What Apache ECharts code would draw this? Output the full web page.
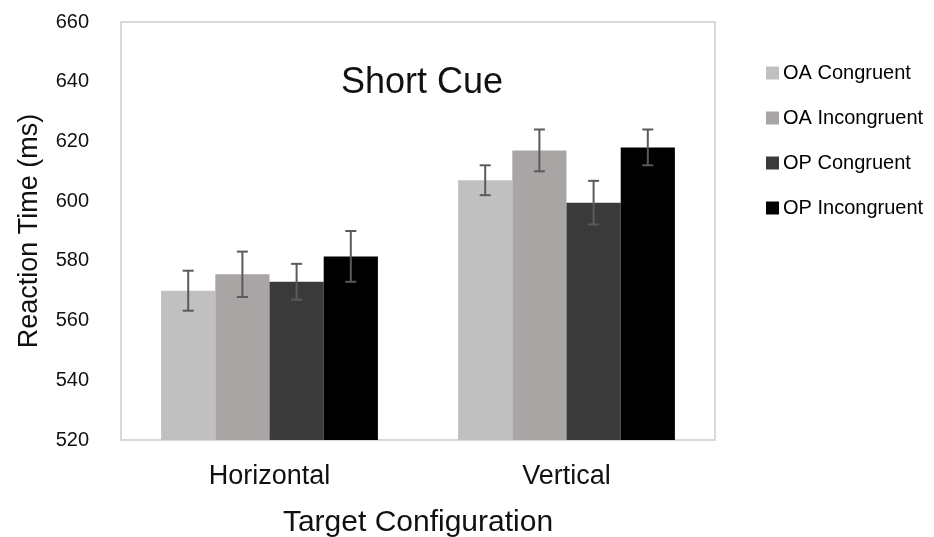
<!DOCTYPE html>
<html>
<head>
<meta charset="utf-8">
<script src="https://cdn.jsdelivr.net/npm/echarts@6/dist/echarts.min.js"></script>
<style>html,body{margin:0;padding:0;background:#fff}#c{width:934px;height:537px}</style>
</head>
<body>
<div id="c"></div>
<script>
var categories = ['Horizontal', 'Vertical'];
var seriesNames = ['OA Congruent', 'OA Incongruent', 'OP Congruent', 'OP Incongruent'];
var oaCongruent = [570, 607];
var oaIncongruent = [575.5, 617];
var opCongruent = [573, 599.5];
var opIncongruent = [581.5, 618];
var oaCongruentErr = [6.7, 5];
var oaIncongruentErr = [7.6, 7];
var opCongruentErr = [6, 7.3];
var opIncongruentErr = [8.5, 6];
var yTicks = [520, 540, 560, 580, 600, 620, 640, 660];

var values = [oaCongruent, oaIncongruent, opCongruent, opIncongruent];
var errors = [oaCongruentErr, oaIncongruentErr, opCongruentErr, opIncongruentErr];
var colors = ['#c0c0c0', '#a9a5a5', '#3a3a3a', '#000000'];
var gapPct = 0.27;

var series = [];
values.forEach(function (v, i) {
  series.push({
    name: seriesNames[i], type: 'bar', data: v,
    barGap: '0%', barCategoryGap: (gapPct * 100) + '%',
    itemStyle: { color: colors[i] }
  });
});
values.forEach(function (v, i) {
  var data = v.map(function (val, k) { return [k, val, errors[i][k]]; });
  series.push({
    type: 'custom', name: seriesNames[i] + ' error', data: data, z: 10,
    silent: true,
    renderItem: function (params, api) {
      var k = api.value(0), val = api.value(1), e = api.value(2);
      var band = api.size([1, 0])[0];
      var bw = band * (1 - gapPct) / 4;
      var off = (i - 1.5) * bw;
      var hi = api.coord([k, val + e]);
      var lo = api.coord([k, val - e]);
      var x = hi[0] + off;
      var cw = 5.5;
      var st = { stroke: '#5a5a5a', lineWidth: 2 };
      return { type: 'group', children: [
        { type: 'line', shape: { x1: x, y1: hi[1], x2: x, y2: lo[1] }, style: st },
        { type: 'line', shape: { x1: x - cw, y1: hi[1], x2: x + cw, y2: hi[1] }, style: st },
        { type: 'line', shape: { x1: x - cw, y1: lo[1], x2: x + cw, y2: lo[1] }, style: st }
      ]};
    }
  });
});

var chart = echarts.init(document.getElementById('c'));
chart.setOption({
  animation: false,
  textStyle: { fontFamily: 'Liberation Sans, Arial, sans-serif' },
  title: {
    text: 'Short Cue', left: 336, top: 60,
    textStyle: { fontSize: 36, fontWeight: 'normal', color: '#111', fontFamily: 'Liberation Sans, Arial, sans-serif' }
  },
  legend: {
    data: seriesNames, orient: 'vertical', left: 761, top: 58,
    itemWidth: 13, itemHeight: 13, itemGap: 25, icon: 'rect',
    textStyle: { fontSize: 20, color: '#000', padding: [0, 0, 0, -1] }
  },
  grid: {
    left: 121, right: 219, top: 22, bottom: 97,
    containLabel: false, outerBoundsMode: 'none',
    show: true, borderColor: '#d9d9d9', borderWidth: 2, backgroundColor: '#fff'
  },
  xAxis: {
    type: 'category', data: categories,
    axisLine: { lineStyle: { color: '#d9d9d9', width: 2 } },
    axisTick: { show: false },
    axisLabel: { fontSize: 27, color: '#111', margin: 23 },
    name: 'Target Configuration', nameLocation: 'middle', nameGap: 68,
    nameTextStyle: { fontSize: 30, color: '#111' }
  },
  yAxis: {
    type: 'value', min: yTicks[0], max: yTicks[yTicks.length - 1], interval: 20,
    axisLine: { show: false }, axisTick: { show: false },
    splitLine: { show: false },
    axisLabel: { fontSize: 20, color: '#111', margin: 32 },
    name: 'Reaction Time (ms)', nameLocation: 'middle', nameGap: 78,
    nameTextStyle: { fontSize: 27, color: '#111' }
  },
  series: series
});
</script>
</body>
</html>
